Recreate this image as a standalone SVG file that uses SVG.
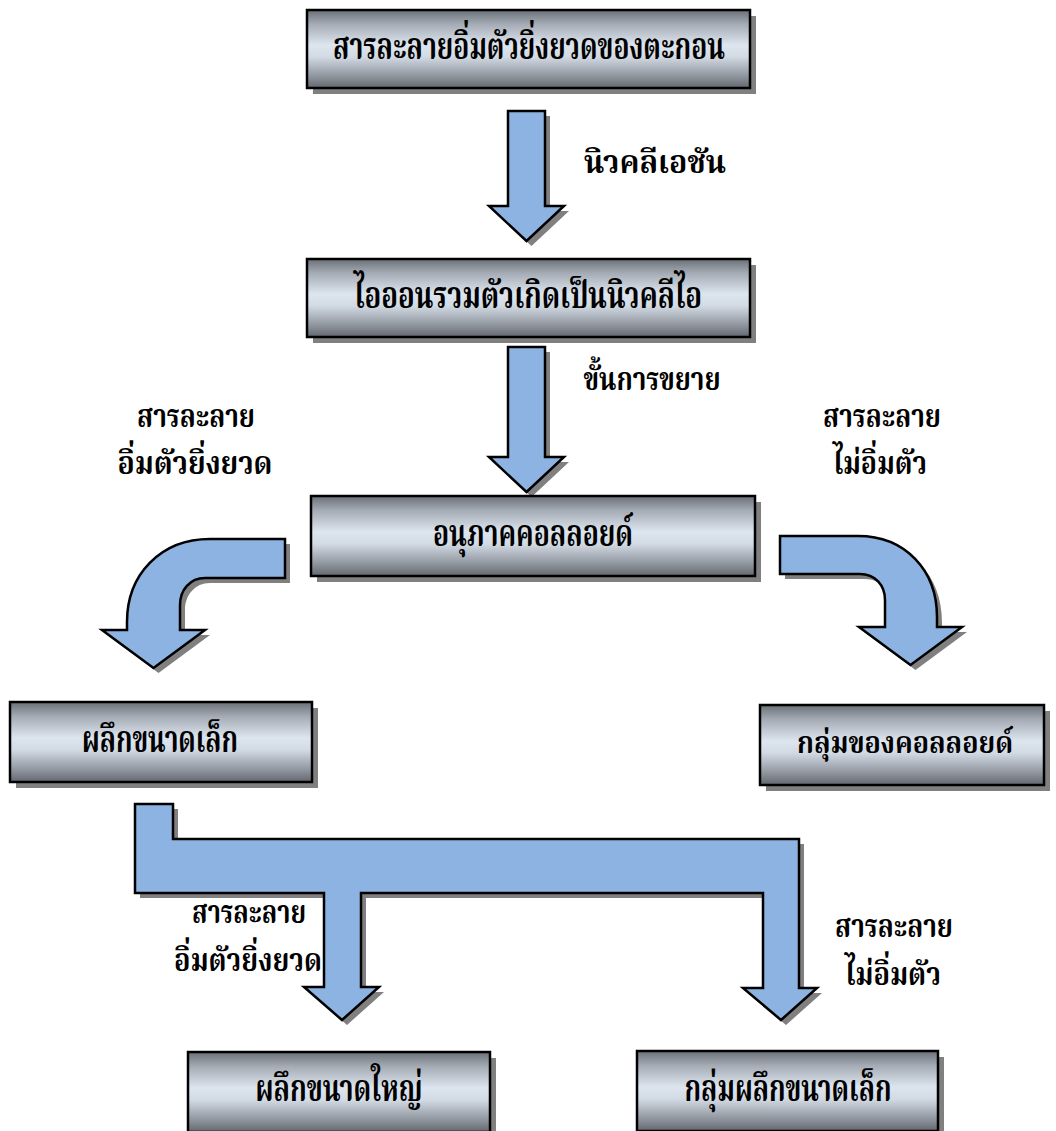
<svg xmlns="http://www.w3.org/2000/svg" width="1056" height="1131" viewBox="0 0 1056 1131">
  <defs>
    <linearGradient id="metal" x1="0" y1="0" x2="0" y2="1">
      <stop offset="0" stop-color="#6b7077"/>
      <stop offset="0.18" stop-color="#a4abb4"/>
      <stop offset="0.45" stop-color="#dde5ef"/>
      <stop offset="0.6" stop-color="#d2dae4"/>
      <stop offset="0.85" stop-color="#8f959d"/>
      <stop offset="1" stop-color="#63686f"/>
    </linearGradient>
  </defs>
  <style>
    .shadow { fill: #808080; stroke: none; }
    .box { fill: url(#metal); stroke: #000; stroke-width: 2.5; }
    .arrow { fill: #8db3e2; stroke: #000; stroke-width: 2.5; stroke-linejoin: miter; }
    text { font-family: "Noto Serif Thai", "Noto Sans Thai Looped", "Kinnari", "Norasi", "Noto Sans Thai", "Liberation Serif", serif; font-weight: bold; fill: #000; }
    .t { font-size: 37px; text-anchor: middle; dominant-baseline: central; }
    .t.narrow { font-size: 31px; }
    .lbl { font-size: 32px; text-anchor: middle; dominant-baseline: central; }
  </style>

  <!-- connectors: block arrows with drop shadows -->
  <g id="connectors">
    <g transform="translate(5,5)" class="shadow">
      <polygon points="508,111 545,111 545,206 564,206 526.5,241 489,206 508,206"/>
      <polygon points="508,347 545,347 545,457 564,457 526.5,492 489,457 508,457"/>
      <path d="M285,539 L210,539 C160,539 127,575 127,622 L127,630 L102,630 L153.5,668 L205,630 L180,630 L180,605 C180,590 190,578 205,578 L285,578 Z"/>
      <path d="M780,536 L858,536 C905,536 937,570 937,617 L937,627 L962,627 L910.5,665 L859,627 L885,627 L885,600 C885,585 875,574 860,574 L780,574 Z"/>
      <polygon points="135,804 173,804 173,839 799,839 799,988 817,988 781,1020 743,988 763,988 763,893 361,893 361,987 379,987 342,1020 304,987 324,987 324,893 135,893"/>
    </g>
    <polygon class="arrow" points="508,111 545,111 545,206 564,206 526.5,241 489,206 508,206"/>
    <polygon class="arrow" points="508,347 545,347 545,457 564,457 526.5,492 489,457 508,457"/>
    <path class="arrow" d="M285,539 L210,539 C160,539 127,575 127,622 L127,630 L102,630 L153.5,668 L205,630 L180,630 L180,605 C180,590 190,578 205,578 L285,578 Z"/>
    <path class="arrow" d="M780,536 L858,536 C905,536 937,570 937,617 L937,627 L962,627 L910.5,665 L859,627 L885,627 L885,600 C885,585 875,574 860,574 L780,574 Z"/>
    <polygon class="arrow" points="135,804 173,804 173,839 799,839 799,988 817,988 781,1020 743,988 763,988 763,893 361,893 361,987 379,987 342,1020 304,987 324,987 324,893 135,893"/>

    <text class="lbl" x="655" y="164" textLength="142" lengthAdjust="spacingAndGlyphs">นิวคลีเอชัน</text>
    <text class="lbl" x="652" y="381" textLength="137" lengthAdjust="spacingAndGlyphs">ขั้นการขยาย</text>
    <text class="lbl" x="196" y="418" textLength="118" lengthAdjust="spacingAndGlyphs">สารละลาย</text>
    <text class="lbl" x="195" y="465" textLength="155" lengthAdjust="spacingAndGlyphs">อิ่มตัวยิ่งยวด</text>
    <text class="lbl" x="882" y="418" textLength="118" lengthAdjust="spacingAndGlyphs">สารละลาย</text>
    <text class="lbl" x="880" y="465" textLength="94" lengthAdjust="spacingAndGlyphs">ไม่อิ่มตัว</text>
    <text class="lbl" x="249" y="914" textLength="114" lengthAdjust="spacingAndGlyphs">สารละลาย</text>
    <text class="lbl" x="248" y="962" textLength="148" lengthAdjust="spacingAndGlyphs">อิ่มตัวยิ่งยวด</text>
    <text class="lbl" x="894" y="928" textLength="118" lengthAdjust="spacingAndGlyphs">สารละลาย</text>
    <text class="lbl" x="893" y="976" textLength="96" lengthAdjust="spacingAndGlyphs">ไม่อิ่มตัว</text>
  </g>

  <g id="node-supersaturated">
    <rect class="shadow" x="313" y="16" width="443" height="78"/>
    <rect class="box" x="307" y="10" width="443" height="78"/>
    <text class="t" x="529" y="49" textLength="392" lengthAdjust="spacingAndGlyphs">สารละลายอิ่มตัวยิ่งยวดของตะกอน</text>
  </g>
  <g id="node-nuclei">
    <rect class="shadow" x="313" y="265" width="443" height="78"/>
    <rect class="box" x="307" y="259" width="443" height="78"/>
    <text class="t" x="528" y="298" textLength="348" lengthAdjust="spacingAndGlyphs">ไอออนรวมตัวเกิดเป็นนิวคลีไอ</text>
  </g>
  <g id="node-colloid">
    <rect class="shadow" x="317" y="502" width="444" height="80"/>
    <rect class="box" x="311" y="496" width="444" height="80"/>
    <text class="t" x="533" y="536" textLength="200" lengthAdjust="spacingAndGlyphs">อนุภาคคอลลอยด์</text>
  </g>
  <g id="node-small-crystal">
    <rect class="shadow" x="16" y="708" width="302" height="80"/>
    <rect class="box" x="10" y="702" width="302" height="80"/>
    <text class="t" x="160" y="742" textLength="156" lengthAdjust="spacingAndGlyphs">ผลึกขนาดเล็ก</text>
  </g>
  <g id="node-colloid-cluster">
    <rect class="shadow" x="766" y="711" width="284" height="80"/>
    <rect class="box" x="760" y="705" width="284" height="80"/>
    <text class="t narrow" x="905" y="745" textLength="216" lengthAdjust="spacingAndGlyphs">กลุ่มของคอลลอยด์</text>
  </g>
  <g id="node-large-crystal">
    <rect class="shadow" x="194" y="1058" width="302" height="80"/>
    <rect class="box" x="188" y="1052" width="302" height="80"/>
    <text class="t" x="339" y="1091" textLength="167" lengthAdjust="spacingAndGlyphs">ผลึกขนาดใหญ่</text>
  </g>
  <g id="node-small-crystal-cluster">
    <rect class="shadow" x="643" y="1057" width="301" height="80"/>
    <rect class="box" x="637" y="1051" width="301" height="80"/>
    <text class="t" x="788" y="1091" textLength="207" lengthAdjust="spacingAndGlyphs">กลุ่มผลึกขนาดเล็ก</text>
  </g>
</svg>
